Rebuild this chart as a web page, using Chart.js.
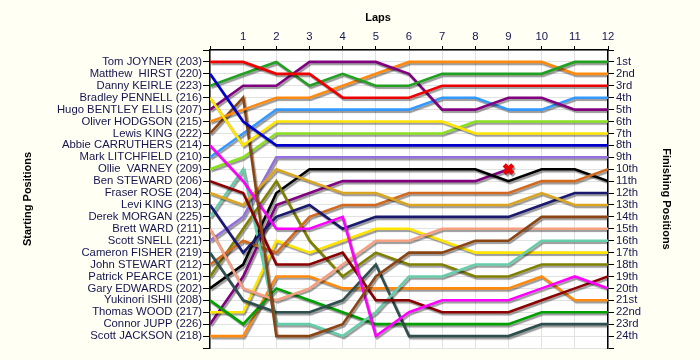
<!DOCTYPE html>
<html><head><meta charset="utf-8">
<script src="https://cdn.jsdelivr.net/npm/chart.js@4"></script>
<style>html,body{margin:0;padding:0;background:#fffff4;} canvas{display:block}</style>
</head><body>
<canvas id="c" width="700" height="360"></canvas>
<script>
const laps = [0,1,2,3,4,5,6,7,8,9,10,11,12];
const drivers = ["Tom JOYNER (203)","Matthew  HIRST (220)","Danny KEIRLE (223)","Bradley PENNELL (216)","Hugo BENTLEY ELLIS (207)","Oliver HODGSON (215)","Lewis KING (222)","Abbie CARRUTHERS (214)","Mark LITCHFIELD (210)","Ollie  VARNEY (209)","Ben STEWARD (206)","Fraser ROSE (204)","Levi KING (213)","Derek MORGAN (225)","Brett WARD (211)","Scott SNELL (221)","Cameron FISHER (219)","John STEWART (212)","Patrick PEARCE (201)","Gary EDWARDS (202)","Yukinori ISHII (208)","Thomas WOOD (217)","Connor JUPP (226)","Scott JACKSON (218)"];
const finishLabels = ["1st","2nd","3rd","4th","5th","6th","7th","8th","9th","10th","11th","12th","13th","14th","15th","16th","17th","18th","19th","20th","21st","22nd","23rd","24th"];

const tomJoyner       = [1,1,2,2,4,4,4,3,3,3,3,3,3];
const matthewHirst    = [2,6,8,8,8,8,8,8,8,8,8,8,8];
const dannyKeirle     = [3,2,1,3,2,3,3,2,2,2,2,1,1];
const bradleyPennell  = [4,8,6,6,6,6,6,6,7,7,7,7,7];
const hugoBentleyEllis= [5,3,3,1,1,1,2,5,5,4,4,5,5];
const oliverHodgson   = [6,5,4,4,3,2,1,1,1,1,1,2,2];
const lewisKing       = [7,4,24,24,23,19,17,17,16,16,14,14,14];
const abbieCarruthers = [8,11,15,15,14,24,22,21,21,21,20,19,20];
const markLitchfield  = [9,7,5,5,5,5,5,4,4,5,5,4,4];
const ollieVarney     = [10,9,7,7,7,7,7,7,6,6,6,6,6];
const benSteward      = [11,12,18,18,17,21,21,22,22,22,21,20,19];
const fraserRose      = [12,13,10,11,12,12,13,13,13,13,12,13,13];
const leviKing        = [13,17,14,13,15,14,14,14,14,14,13,12,12];
const derekMorgan     = [14,10,23,23,24,22,19,19,18,18,16,16,16];
const brettWard       = [15,20,21,20,18,16,16,15,15,15,15,15,15];
const scottSnell      = [16,14,9,9,9,9,9,9,9,9,9,9,9];
const cameronFisher   = [17,21,22,22,21,18,24,24,24,24,23,23,23];
const johnStewart     = [18,16,17,14,13,13,12,12,12,12,11,11,10];
const patrickPearce   = [19,15,11,16,19,17,18,18,19,19,18,18,18];
const garyEdwards     = [20,18,12,10,10,10,10,10,10,11,10,10,11];
const yukinoriIshii   = [21,23,20,21,22,23,23,23,23,23,22,22,22];
const thomasWood      = [22,22,16,17,16,15,15,16,17,17,17,17,17];
const connorJupp      = [23,19,13,12,11,11,11,11,11,10];
const scottJackson    = [24,24,19,19,20,20,20,20,20,20,19,21,21];

const driverSeries = [tomJoyner,matthewHirst,dannyKeirle,bradleyPennell,hugoBentleyEllis,oliverHodgson,lewisKing,abbieCarruthers,markLitchfield,ollieVarney,benSteward,fraserRose,leviKing,derekMorgan,brettWard,scottSnell,cameronFisher,johnStewart,patrickPearce,garyEdwards,yukinoriIshii,thomasWood,connorJupp,scottJackson];
const driverColors = ["#ee0000","#0000cc","#22a022","#ffe400","#800080","#ff8a10","#8b4513","#ff00ff","#3399ff","#88e020","#8b0000","#daa520","#191970","#66cdaa","#f5a080","#9370db","#2f4f4f","#d2691e","#808000","#000000","#00a000","#ffe400","#800080","#ff8a10"];

Chart.defaults.font.family = "'Liberation Sans', Arial, sans-serif";
const tickColor = '#151550';
const gridColor = '#e2e2e2';

const datasets = driverSeries.map((s,i)=>{
  const retired = s.length < laps.length;
  return {
    label: drivers[i],
    data: s.map((p,k)=>({x: laps[k], y: p})),
    borderColor: driverColors[i],
    backgroundColor: driverColors[i],
    borderWidth: 2.6,
    fill: false,
    tension: 0,
    pointStyle: 'crossRot',
    pointRadius: ctx => (retired && ctx.dataIndex === s.length-1) ? 6 : 0,
    pointBorderColor: '#e80000',
    pointBorderWidth: 4.5,
    pointHoverRadius: 0
  };
});

const bgPlugin = {
  id: 'bg',
  beforeDraw(chart){
    const {ctx, chartArea:a} = chart;
    ctx.save();
    ctx.fillStyle = '#fffff4';
    ctx.fillRect(0,0,chart.width,chart.height);
    ctx.fillStyle = '#ffffff';
    ctx.fillRect(a.left,a.top,a.right-a.left,a.bottom-a.top);
    ctx.restore();
  },
  afterDraw(chart){
    const ctx = chart.ctx;
    ctx.save();
    ctx.font = "bold 11px 'Liberation Sans', Arial, sans-serif";
    ctx.fillStyle = '#000';
    ctx.textAlign = 'center';
    ctx.textBaseline = 'middle';
    ctx.fillText('Laps', 378, 18);
    ctx.restore();
  }
};
const shadowPlugin = {
  id: 'shadow',
  beforeDatasetsDraw(chart){
    const c = chart.ctx;
    c.save();
    c.shadowColor = 'rgba(0,0,0,0.4)';
    c.shadowOffsetX = 1.5;
    c.shadowOffsetY = 2;
    c.shadowBlur = 1;
  },
  afterDatasetsDraw(chart){ chart.ctx.restore(); }
};

const labelFont = {size: 11.3};
new Chart(document.getElementById('c'), {
  type: 'line',
  data: { datasets },
  options: {
    responsive: false,
    animation: false,
    devicePixelRatio: 1,
    layout: { padding: { top: 0, left: 0, right: 0, bottom: 12 } },
    plugins: { legend: {display:false}, tooltip: {enabled:false} },
    events: [],
    scales: {
      x: {
        type: 'linear', position: 'top', min: 0, max: 12,
        afterFit(s){ s.height = 50; },
        ticks: { stepSize: 1, autoSkip: false, maxRotation: 0, padding: 2, color: tickColor, font: labelFont,
          callback: v => v === 0 ? '' : String(v) },
        grid: { color: gridColor, tickLength: 4, tickColor: '#000' },
        border: { color: '#000', width: 1.5 }
      },
      y: {
        type: 'linear', position: 'left', min: 0, max: 25, reverse: true,
        afterFit(s){ s.width = 210; },
        ticks: { stepSize: 1, autoSkip: false, padding: 1, color: tickColor, font: labelFont,
          callback: v => (v >= 1 && v <= drivers.length) ? drivers[v-1] : '' },
        grid: { color: gridColor, tickLength: 7, tickColor: '#000' },
        border: { color: '#000', width: 1.5 },
        title: { display: true, text: 'Starting Positions', color: '#000', font: {size: 11, weight: 'bold'}, padding: {top: 21, bottom: 0} }
      },
      y2: {
        type: 'linear', position: 'right', min: 0, max: 25, reverse: true,
        afterFit(s){ s.width = 92; },
        ticks: { stepSize: 1, autoSkip: false, padding: 2, color: tickColor, font: labelFont,
          callback: v => (v >= 1 && v <= finishLabels.length) ? finishLabels[v-1] : '' },
        grid: { drawOnChartArea: false, tickLength: 6, tickColor: '#000' },
        border: { color: '#000', width: 1.5 },
        title: { display: true, text: 'Finishing Positions', color: '#000', font: {size: 11, weight: 'bold'}, padding: {top: 27, bottom: 0} }
      }
    }
  },
  plugins: [bgPlugin, shadowPlugin]
});
</script>
</body></html>
